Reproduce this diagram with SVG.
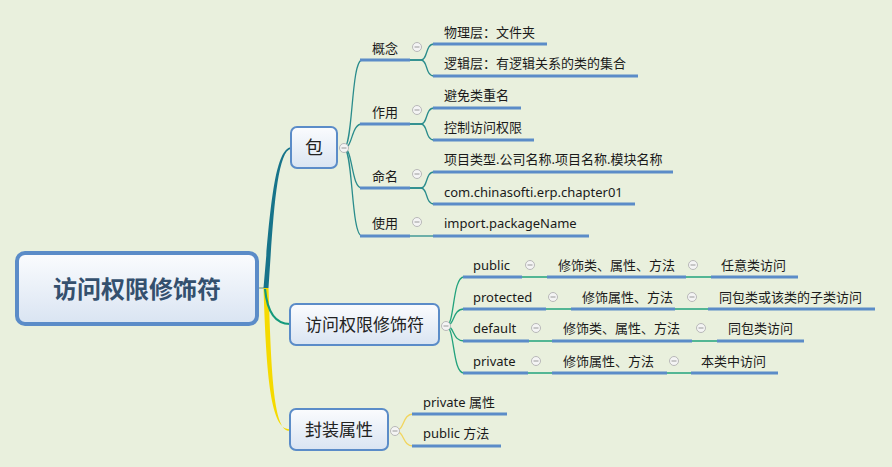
<svg xmlns="http://www.w3.org/2000/svg" width="892" height="467" viewBox="0 0 892 467">
<defs>
<linearGradient id="gr" x1="0" y1="0" x2="0" y2="1">
<stop offset="0" stop-color="#FBFCFE"/>
<stop offset="1" stop-color="#D9E4F2"/>
</linearGradient>
<g id="tog"><circle r="4.5" fill="#F4F4F4" stroke="#B8B8B8" stroke-width="1"/><line x1="-2.5" y1="0" x2="2.5" y2="0" stroke="#9A9A9A" stroke-width="1"/></g>
</defs>
<style>
.t{font-family:"Noto Sans","Noto Sans CJK SC",sans-serif;font-size:13px;fill:#1A1A1A}
.n1{font-family:"Noto Sans CJK SC",sans-serif;font-size:17px;fill:#222;text-anchor:middle}
.root{font-family:"Noto Sans CJK SC",sans-serif;font-size:24px;font-weight:bold;fill:#34506E;text-anchor:middle}
.box{fill:url(#gr);stroke:#5B8CC8;stroke-width:2}
.ul{stroke:#5B8CC8;stroke-width:3.2;fill:none}
.a{stroke:#2A8C8C;stroke-width:1.3;fill:none}
.b{stroke:#22A27C;stroke-width:1.3;fill:none}
.c{stroke:#F1D55E;stroke-width:1.3;fill:none}
</style>
<rect width="892" height="467" fill="#E9F0DD"/>
<g id="connectors">
<line x1="257" y1="288" x2="267" y2="288" stroke="#6E8E7A" stroke-width="1"/>
<path d="M263.5 288 C269.5 220 273.5 149 291 147.2 L291 148.8 C276.5 151 273 220 268.5 288 Z" fill="#17748A"/>
<path d="M263.5 288 C266.5 380 271 430 290 429.2 L290 430.8 C274 432 271.5 380 268.5 288 Z" fill="#F5DA00"/>
<path d="M265 289 C267 310 274 324 290 324" stroke="#149A7C" stroke-width="2.2" fill="none"/>
<path class="a" d="M344 148 C353 148 351 60 362 60"/>
<path class="a" d="M344 148 C353 148 351 124 362 124"/>
<path class="a" d="M344 148 C353 148 351 188 362 188"/>
<path class="a" d="M344 148 C353 148 351 236 362 236"/>
<path class="a" d="M410 60 H421 C428 60 425 44 434 44"/>
<path class="a" d="M410 60 H421 C428 60 425 76 434 76"/>
<path class="a" d="M410 124 H421 C428 124 425 108 434 108"/>
<path class="a" d="M410 124 H421 C428 124 425 140 434 140"/>
<path class="a" d="M410 188 H421 C428 188 425 172 434 172"/>
<path class="a" d="M410 188 H421 C428 188 425 204 434 204"/>
<path class="a" d="M410 236 H434"/>
<path class="b" d="M446 326 C455 326 452 277 464 277"/>
<path class="b" d="M446 326 C455 326 452 309 464 309"/>
<path class="b" d="M446 326 C455 326 452 341 464 341"/>
<path class="b" d="M446 326 C455 326 452 373 464 373"/>
<path class="b" d="M522 277 H547 M686 277 H711"/>
<path class="b" d="M546 309 H571 M675 309 H708"/>
<path class="b" d="M529 341 H552 M692 341 H717"/>
<path class="b" d="M528 373 H552 M667 373 H691"/>
<path class="c" d="M395 431 C405 431 402 414 413 414"/>
<path class="c" d="M395 431 C405 431 402 446 413 446"/>
</g>
<g id="root">
<rect x="17" y="253" width="240" height="71" rx="8" fill="url(#gr)" stroke="#5B8CC8" stroke-width="4"/>
<text class="root" x="137" y="298">访问权限修饰符</text>
</g>
<g id="bao">
<rect class="box" x="291" y="127" width="46" height="41" rx="6"/>
<text class="n1" x="314" y="154" style="font-size:18px">包</text>
<use href="#tog" x="344" y="148"/>
</g>
<g id="gainian">
<line class="ul" x1="360" y1="60" x2="410" y2="60"/>
<text class="t" x="372" y="53">概念</text>
<use href="#tog" x="417" y="47"/>
</g>
<g id="wuli"><line class="ul" x1="433" y1="44" x2="547" y2="44"/><text class="t" x="444" y="37">物理层：文件夹</text></g>
<g id="luoji"><line class="ul" x1="433" y1="76" x2="638" y2="76"/><text class="t" x="444" y="68">逻辑层：有逻辑关系的类的集合</text></g>
<g id="zuoyong">
<line class="ul" x1="360" y1="124" x2="410" y2="124"/>
<text class="t" x="372" y="117">作用</text>
<use href="#tog" x="417" y="110"/>
</g>
<g id="bimian"><line class="ul" x1="433" y1="108" x2="521" y2="108"/><text class="t" x="444" y="100">避免类重名</text></g>
<g id="kongzhi"><line class="ul" x1="433" y1="140" x2="534" y2="140"/><text class="t" x="444" y="132">控制访问权限</text></g>
<g id="mingming">
<line class="ul" x1="360" y1="188" x2="410" y2="188"/>
<text class="t" x="372" y="181">命名</text>
<use href="#tog" x="417" y="174"/>
</g>
<g id="xiangmu"><line class="ul" x1="433" y1="172" x2="673" y2="172"/><text class="t" x="444" y="164">项目类型.公司名称.项目名称.模块名称</text></g>
<g id="com"><line class="ul" x1="433" y1="204" x2="635" y2="204"/><text class="t" x="444" y="197">com.chinasofti.erp.chapter01</text></g>
<g id="shiyong">
<line class="ul" x1="360" y1="236" x2="410" y2="236"/>
<text class="t" x="372" y="228">使用</text>
<use href="#tog" x="417" y="222"/>
</g>
<g id="import"><line class="ul" x1="433" y1="236" x2="589" y2="236"/><text class="t" x="444" y="228">import.packageName</text></g>
<g id="fangwen">
<rect class="box" x="290" y="304" width="149" height="41" rx="6"/>
<text class="n1" x="364.5" y="331">访问权限修饰符</text>
<use href="#tog" x="446" y="326"/>
</g>
<g id="public">
<line class="ul" x1="463" y1="277" x2="522" y2="277"/><text class="t" x="473" y="270">public</text><use href="#tog" x="530" y="265"/>
</g>
<g id="public-1">
<line class="ul" x1="547" y1="277" x2="686" y2="277"/><text class="t" x="558" y="270">修饰类、属性、方法</text><use href="#tog" x="693" y="265"/>
</g>
<g id="public-2"><line class="ul" x1="711" y1="277" x2="798" y2="277"/><text class="t" x="721" y="270">任意类访问</text></g>
<g id="protected">
<line class="ul" x1="463" y1="309" x2="546" y2="309"/><text class="t" x="473" y="302">protected</text><use href="#tog" x="553" y="297"/>
</g>
<g id="protected-1">
<line class="ul" x1="571" y1="309" x2="675" y2="309"/><text class="t" x="582" y="302">修饰属性、方法</text><use href="#tog" x="692" y="297"/>
</g>
<g id="protected-2"><line class="ul" x1="708" y1="309" x2="875" y2="309"/><text class="t" x="719" y="302">同包类或该类的子类访问</text></g>
<g id="default">
<line class="ul" x1="463" y1="341" x2="529" y2="341"/><text class="t" x="473" y="333">default</text><use href="#tog" x="536" y="328"/>
</g>
<g id="default-1">
<line class="ul" x1="552" y1="341" x2="692" y2="341"/><text class="t" x="563" y="333">修饰类、属性、方法</text><use href="#tog" x="701" y="328"/>
</g>
<g id="default-2"><line class="ul" x1="717" y1="341" x2="804" y2="341"/><text class="t" x="728" y="333">同包类访问</text></g>
<g id="private">
<line class="ul" x1="463" y1="373" x2="528" y2="373"/><text class="t" x="473" y="366">private</text><use href="#tog" x="536" y="361"/>
</g>
<g id="private-1">
<line class="ul" x1="552" y1="373" x2="667" y2="373"/><text class="t" x="563" y="366">修饰属性、方法</text><use href="#tog" x="674" y="361"/>
</g>
<g id="private-2"><line class="ul" x1="691" y1="373" x2="778" y2="373"/><text class="t" x="701" y="366">本类中访问</text></g>
<g id="fengzhuang">
<rect class="box" x="290" y="409" width="98" height="41" rx="6"/>
<text class="n1" x="339" y="436">封装属性</text>
<use href="#tog" x="395" y="431"/>
</g>
<g id="private-attr"><line class="ul" x1="412" y1="414" x2="507" y2="414"/><text class="t" x="423" y="407">private 属性</text></g>
<g id="public-method"><line class="ul" x1="412" y1="446" x2="501" y2="446"/><text class="t" x="423" y="438">public 方法</text></g>
</svg>
